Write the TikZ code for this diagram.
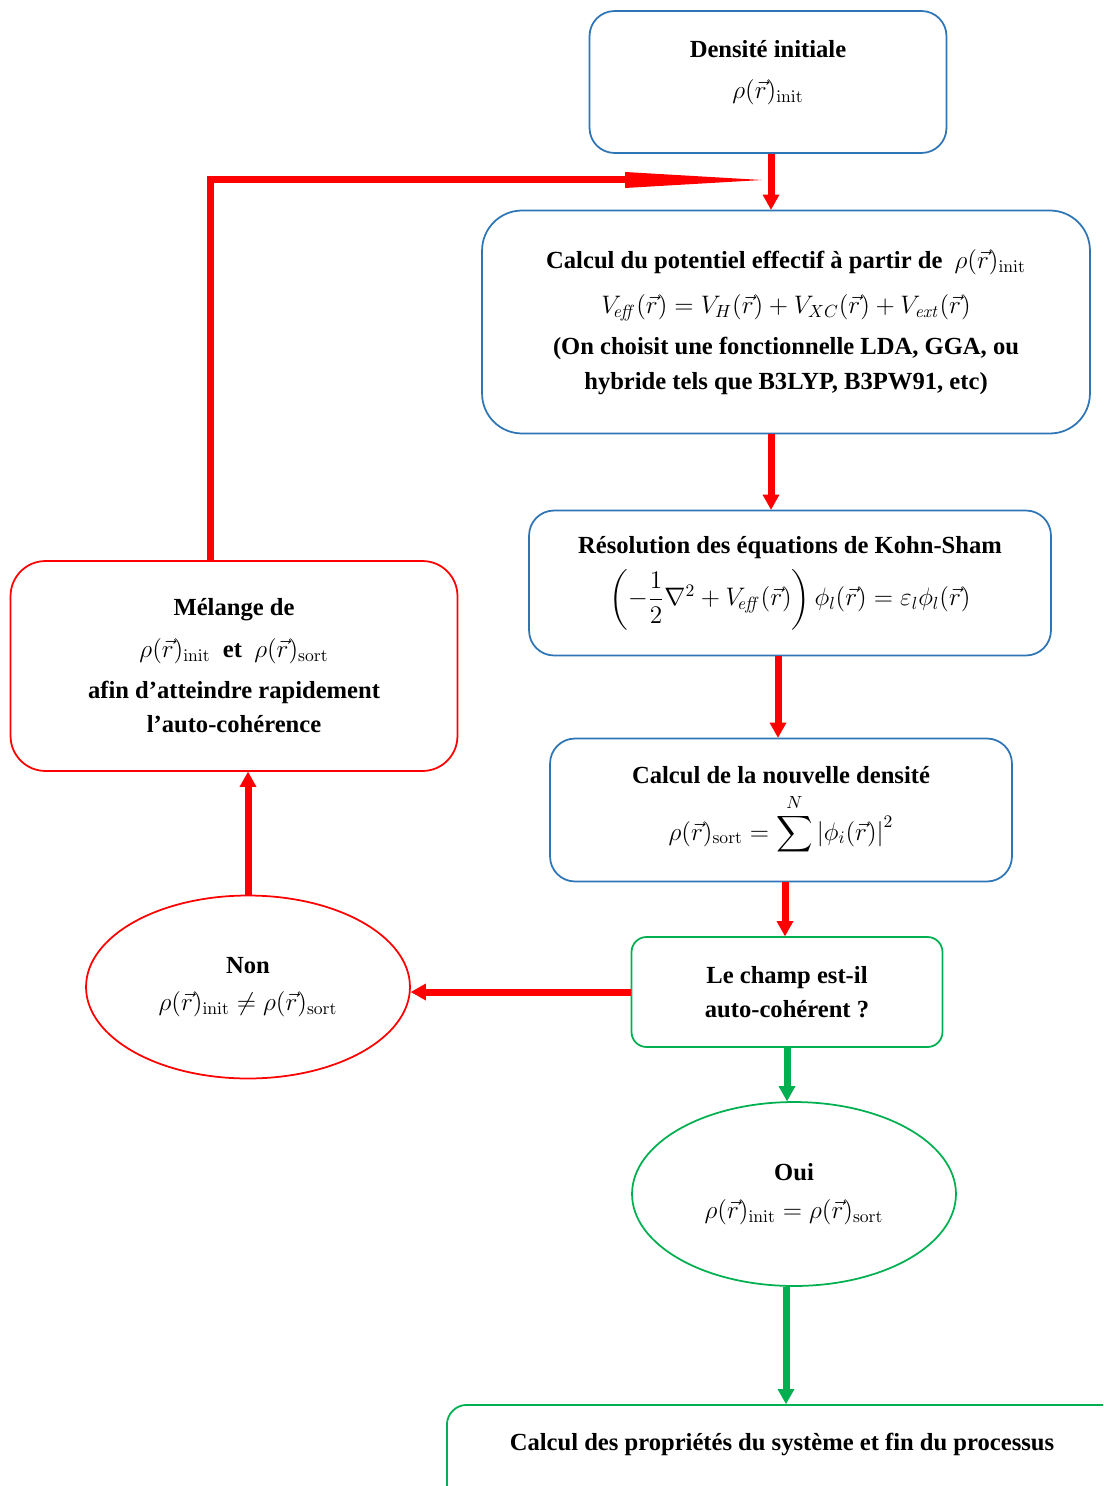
\documentclass[tikz,border=0pt]{standalone}
\usepackage{amsmath}
\usepackage[no-math]{fontspec}
\setmainfont{Liberation Serif}
\usetikzlibrary{shapes.geometric,arrows.meta,positioning}
\definecolor{bluecustom}{RGB}{46,117,182}
\definecolor{redcustom}{RGB}{255,0,0}
\definecolor{greencustom}{RGB}{0,176,80}

\tikzset{
    boxbase/.style={line width=0.035cm, align=center, inner sep=0pt, font=\fontsize{14}{19.5}\selectfont\bfseries},
    bluebox/.style={boxbase, draw=bluecustom, rectangle, rounded corners=0.5cm},
    redbox/.style={boxbase, draw=redcustom, rectangle, rounded corners=0.7cm},
    greenbox/.style={boxbase, draw=greencustom, rectangle, rounded corners=0.3cm},
    redellipse/.style={boxbase, draw=redcustom, ellipse},
    greenellipse/.style={boxbase, draw=greencustom, ellipse},
    plaintext/.style={align=center, font=\fontsize{14}{19.5}\selectfont\bfseries},
    redarrow/.style={draw=redcustom, line width=0.14cm, -{Triangle[length=0.3cm,width=0.34cm,line width=0pt]}},
    greenarrow/.style={draw=greencustom, line width=0.14cm, -{Triangle[length=0.3cm,width=0.34cm,line width=0pt]}}
}

\begin{document}
\begin{tikzpicture}[x=0.02cm, y=-0.02cm]
    \useasboundingbox (0,0) rectangle (1103,1486);
    \clip (0,0) rectangle (1103,1486);

    \node[bluebox, minimum width=7.14cm, minimum height=2.84cm] (init) at (768,82) {
        Densité initiale\\[4pt]
        $\rho(\vec{r})_{\mathrm{init}}$\rule[-14pt]{0pt}{14pt}
    };
    \node[bluebox, rounded corners=0.8cm, minimum width=12.16cm, minimum height=4.46cm] (pot) at (786,322) {
        Calcul du potentiel effectif à partir de\ \ $\rho(\vec{r})_{\mathrm{init}}$\\[6pt]
        $V_{\!\mathit{eff}}(\vec{r})=V_H(\vec{r})+V_{XC}(\vec{r})+V_{\mathit{ext}}(\vec{r})$\\[4pt]
        (On choisit une fonctionnelle LDA, GGA, ou\\
        hybride tels que B3LYP, B3PW91, etc)
    };
    \node[bluebox, minimum width=10.44cm, minimum height=2.9cm] (res) at (790,583) {
        Résolution des équations de Kohn-Sham\\[5pt]
        $\left(-\dfrac{1}{2}\nabla^2+V_{\!\mathit{eff}}(\vec{r})\right)\phi_l(\vec{r})=\varepsilon_l\phi_l(\vec{r})$
    };
    \node[bluebox, minimum width=9.24cm, minimum height=2.86cm] (dens) at (781,810) {
        Calcul de la nouvelle densité\\[5pt]
        $\rho(\vec{r})_{\mathrm{sort}}=\displaystyle\sum^{N}\left|\phi_i(\vec{r})\right|^2$
    };
    \node[greenbox, minimum width=6.22cm, minimum height=2.2cm] (champ) at (787,992) {
        Le champ est-il\\
        auto-cohérent ?
    };
    \node[greenellipse, minimum width=6.48cm, minimum height=3.68cm] (oui) at (794,1194) {
        Oui\\[2pt]
        $\rho(\vec{r})_{\mathrm{init}}=\rho(\vec{r})_{\mathrm{sort}}$
    };
    \node[redellipse, minimum width=6.48cm, minimum height=3.66cm] (non) at (248,987) {
        Non\\[2pt]
        $\rho(\vec{r})_{\mathrm{init}}\neq\rho(\vec{r})_{\mathrm{sort}}$
    };
    \node[redbox, minimum width=8.94cm, minimum height=4.2cm] (mel) at (234,666) {
        Mélange de\\[4pt]
        $\rho(\vec{r})_{\mathrm{init}}$\ \ et\ \ $\rho(\vec{r})_{\mathrm{sort}}$\\[4pt]
        afin d’atteindre rapidement\\
        l’auto-cohérence
    };
    \node[greenbox, rounded corners=0.4cm, anchor=north west, minimum width=14cm, minimum height=3.4cm] (fin) at (446,1404) {};
    \node[plaintext] (finlabel) at (782,1444) {Calcul des propriétés du système et fin du processus};
    \coordinate (loop) at (762,180);

    \draw[redarrow] ([xshift=0.06cm]init.south) -- ([xshift=0.06cm]init.south |- pot.north);
    \draw[redarrow] ([xshift=0.06cm]init.south |- pot.south) -- ([xshift=0.06cm]init.south |- res.north);
    \draw[redarrow] ([xshift=-0.06cm]dens.north |- res.south) -- ([xshift=-0.06cm]dens.north);
    \draw[redarrow] ([xshift=-0.04cm]champ.north |- dens.south) -- ([xshift=-0.04cm]champ.north);
    \draw[redarrow] (champ.west) -- (champ.west -| non.east);
    \draw[redarrow] (non.north) -- (non.north |- mel.south);
    \draw[redarrow, -{Triangle[length=2.74cm,width=0.32cm,line width=0pt]}] ([xshift=-0.48cm]mel.north) |- (loop);
    \draw[greenarrow] (champ.south) -- (champ.south |- oui.north);
    \draw[greenarrow] ([xshift=-0.16cm]oui.south) -- ([xshift=-0.16cm]oui.south |- fin.north);
\end{tikzpicture}
\end{document}
